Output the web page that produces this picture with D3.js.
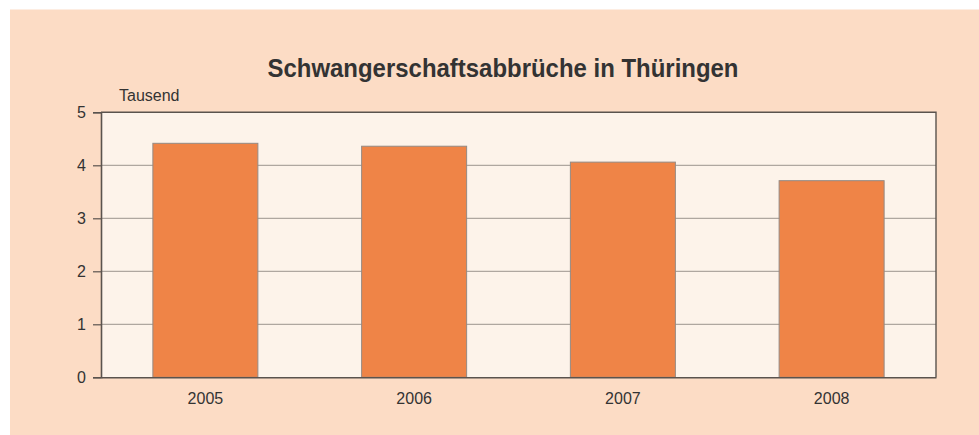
<!DOCTYPE html>
<html>
<head>
<meta charset="utf-8">
<script src="https://cdn.jsdelivr.net/npm/d3@7"></script>
<style>
  html, body { margin: 0; padding: 0; background: #ffffff; }
  svg { display: block; }
  text { font-family: "Liberation Sans", Arial, sans-serif; fill: #333333; }
</style>
</head>
<body>
<svg id="chart" width="979" height="435"></svg>
<script>
// Schwangerschaftsabbrüche in Thüringen, in Tausend
const years = ["2005", "2006", "2007", "2008"];
const abortions = [4.415, 4.36, 4.06, 3.71];
const yTicks = [0, 1, 2, 3, 4, 5];
const chartTitle = "Schwangerschaftsabbrüche in Thüringen";
const unitLabel = "Tausend";

const svg = d3.select("#chart");
const W = 979, H = 435;
const plot = { left: 101, right: 936, top: 112.3, bottom: 377.3 };
const labelFont = 16;

// outer panel
svg.append("rect")
  .attr("x", 10).attr("y", 9.5)
  .attr("width", W - 10).attr("height", H - 9.5)
  .attr("fill", "#fcdcc5");

const x = d3.scaleBand()
  .domain(years)
  .range([plot.left, plot.right])
  .paddingInner(0.497)
  .paddingOuter(0.2485);

const y = d3.scaleLinear()
  .domain([0, 5])
  .range([plot.bottom, plot.top]);

// plot background
svg.append("rect")
  .attr("x", plot.left).attr("y", plot.top)
  .attr("width", plot.right - plot.left).attr("height", plot.bottom - plot.top)
  .attr("fill", "#fdf3ea");

// gridlines
svg.append("g")
  .selectAll("line")
  .data(yTicks.filter(t => t > 0 && t < 5))
  .join("line")
  .attr("x1", plot.left).attr("x2", plot.right)
  .attr("y1", d => y(d)).attr("y2", d => y(d))
  .attr("stroke", "#9b948e").attr("stroke-width", 1);

// bars
svg.append("g")
  .selectAll("rect")
  .data(years.map((yr, i) => ({ yr, v: abortions[i] })))
  .join("rect")
  .attr("x", d => x(d.yr))
  .attr("y", d => y(d.v))
  .attr("width", x.bandwidth())
  .attr("height", d => y(0) - y(d.v))
  .attr("fill", "#ef8447")
  .attr("stroke", "#948a84")
  .attr("stroke-width", 1);

// frame: top and right edges
svg.append("path")
  .attr("d", `M${plot.left},${plot.top}H${plot.right}V${plot.bottom}`)
  .attr("fill", "none")
  .attr("stroke", "#5a534e").attr("stroke-width", 1.4);

// y axis
const yAxis = svg.append("g")
  .attr("transform", `translate(${plot.left},0)`)
  .call(d3.axisLeft(y).tickValues(yTicks).tickFormat(d3.format("d")).tickSize(8).tickPadding(7));
yAxis.select(".domain").attr("stroke", "#5a534e").attr("stroke-width", 1.6);
yAxis.selectAll(".tick line").attr("stroke", "#5a534e").attr("stroke-width", 1.2);
yAxis.selectAll(".tick text")
  .attr("font-size", labelFont)
  .attr("font-family", "Liberation Sans, Arial, sans-serif")
  .attr("fill", "#333333");

// x axis
const xAxis = svg.append("g")
  .attr("transform", `translate(0,${plot.bottom})`)
  .call(d3.axisBottom(x).tickSize(0).tickPadding(15));
xAxis.select(".domain").attr("stroke", "#5a534e").attr("stroke-width", 1.6);
xAxis.selectAll(".tick text")
  .attr("font-size", labelFont)
  .attr("font-family", "Liberation Sans, Arial, sans-serif")
  .attr("fill", "#333333");

// unit label
svg.append("text")
  .attr("x", 119).attr("y", 100.5)
  .attr("font-size", labelFont)
  .text(unitLabel);

// title
svg.append("text")
  .attr("x", 503).attr("y", 77)
  .attr("text-anchor", "middle")
  .attr("font-size", 26)
  .attr("font-weight", "bold")
  .attr("textLength", 471)
  .attr("lengthAdjust", "spacingAndGlyphs")
  .text(chartTitle);
</script>
</body>
</html>
